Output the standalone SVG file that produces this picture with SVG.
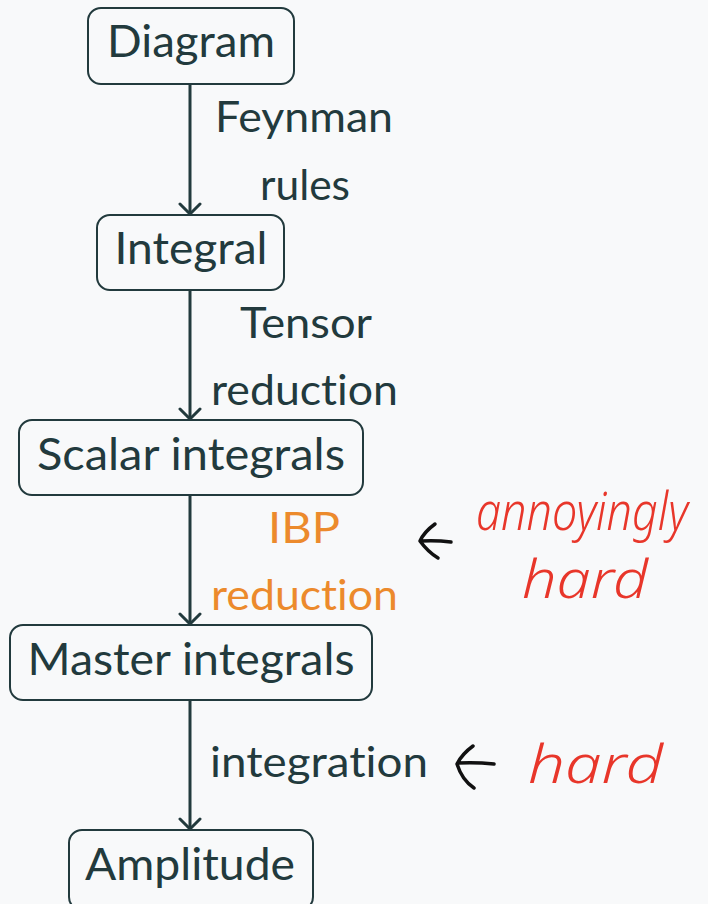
<svg xmlns="http://www.w3.org/2000/svg" width="708" height="904" viewBox="0 0 708 904">
  <defs>
    <marker id="head" viewBox="0 0 24 24" refX="21" refY="12" markerWidth="24" markerHeight="24" markerUnits="userSpaceOnUse" orient="auto">
      <path d="M11 2 L21 12 L11 22" fill="none" stroke="#223a3d" stroke-width="3" stroke-linecap="round" stroke-linejoin="round"/>
    </marker>
    <style>
      .box { fill: #f8f9fa; stroke: #223a3d; stroke-width: 2; }
      .node { font-family: "Lato", "Liberation Sans", sans-serif; font-size: 45px; fill: #223a3d; text-anchor: middle; font-variant-ligatures: none; }
      .lbl { font-family: "Lato", "Liberation Sans", sans-serif; font-size: 42px; fill: #223a3d; font-variant-ligatures: none; }
      .hot { fill: #ec8a2c; }
      .edge { stroke: #223a3d; stroke-width: 3; fill: none; marker-end: url(#head); }
      .hand { font-family: "Noto Sans", "DejaVu Sans", sans-serif; font-style: italic; font-weight: 300; font-size: 54px; fill: #e8362a; }
      .scribble { stroke: #111; stroke-width: 3.5; fill: none; stroke-linecap: round; stroke-linejoin: round; }
    </style>
  </defs>

  <rect width="708" height="904" fill="#f8f9fa"/>

  <!-- connectors with their step labels -->
  <g id="edges">
    <line class="edge" x1="190" y1="84" x2="190" y2="214"/>
    <line class="edge" x1="190" y1="290" x2="190" y2="419"/>
    <line class="edge" x1="190" y1="495" x2="190" y2="624"/>
    <line class="edge" x1="190" y1="700" x2="190" y2="829"/>

    <text class="lbl" x="215" y="132" textLength="178" lengthAdjust="spacingAndGlyphs">Feynman</text>
    <text class="lbl" x="260" y="200" textLength="90" lengthAdjust="spacingAndGlyphs">rules</text>
    <text class="lbl" x="240" y="338" textLength="132" lengthAdjust="spacingAndGlyphs">Tensor</text>
    <text class="lbl" x="211" y="405" textLength="187" lengthAdjust="spacingAndGlyphs">reduction</text>
    <text class="lbl hot" x="268" y="543" textLength="72" lengthAdjust="spacingAndGlyphs">IBP</text>
    <text class="lbl hot" x="211" y="610" textLength="187" lengthAdjust="spacingAndGlyphs">reduction</text>
    <text class="lbl" x="210" y="777" textLength="218" lengthAdjust="spacingAndGlyphs">integration</text>
  </g>

  <g id="n-diagram">
    <rect class="box" x="88" y="8" width="206" height="76" rx="13"/>
    <text class="node" x="191" y="57" textLength="168" lengthAdjust="spacingAndGlyphs">Diagram</text>
  </g>
  <g id="n-integral">
    <rect class="box" x="97" y="215" width="187" height="75" rx="13"/>
    <text class="node" x="191" y="264" textLength="153" lengthAdjust="spacingAndGlyphs">Integral</text>
  </g>
  <g id="n-scalar">
    <rect class="box" x="19" y="420" width="344" height="75" rx="13"/>
    <text class="node" x="191" y="470" textLength="308" lengthAdjust="spacingAndGlyphs">Scalar integrals</text>
  </g>
  <g id="n-master">
    <rect class="box" x="10" y="625" width="362" height="75" rx="13"/>
    <text class="node" x="191" y="675" textLength="327" lengthAdjust="spacingAndGlyphs">Master integrals</text>
  </g>
  <g id="n-amplitude">
    <rect class="box" x="69" y="830" width="244" height="80" rx="13"/>
    <text class="node" x="190" y="880" textLength="210" lengthAdjust="spacingAndGlyphs">Amplitude</text>
  </g>

  <!-- hand-written remarks -->
  <g id="note-ibp">
    <path class="scribble" d="M435 524 Q424 532 420 541 Q428 552 438 558 M421 541 Q436 540 451 542"/>
    <text class="hand" x="476" y="530" font-size="46" textLength="212" lengthAdjust="spacingAndGlyphs">annoyingly</text>
    <text class="hand" x="522" y="598" textLength="126" lengthAdjust="spacingAndGlyphs">hard</text>
  </g>
  <g id="note-integration">
    <path class="scribble" d="M473 746 Q462 754 457 764 Q462 780 474 788 M458 763 Q476 762 494 764"/>
    <text class="hand" x="528" y="783" textLength="135" lengthAdjust="spacingAndGlyphs">hard</text>
  </g>
</svg>
